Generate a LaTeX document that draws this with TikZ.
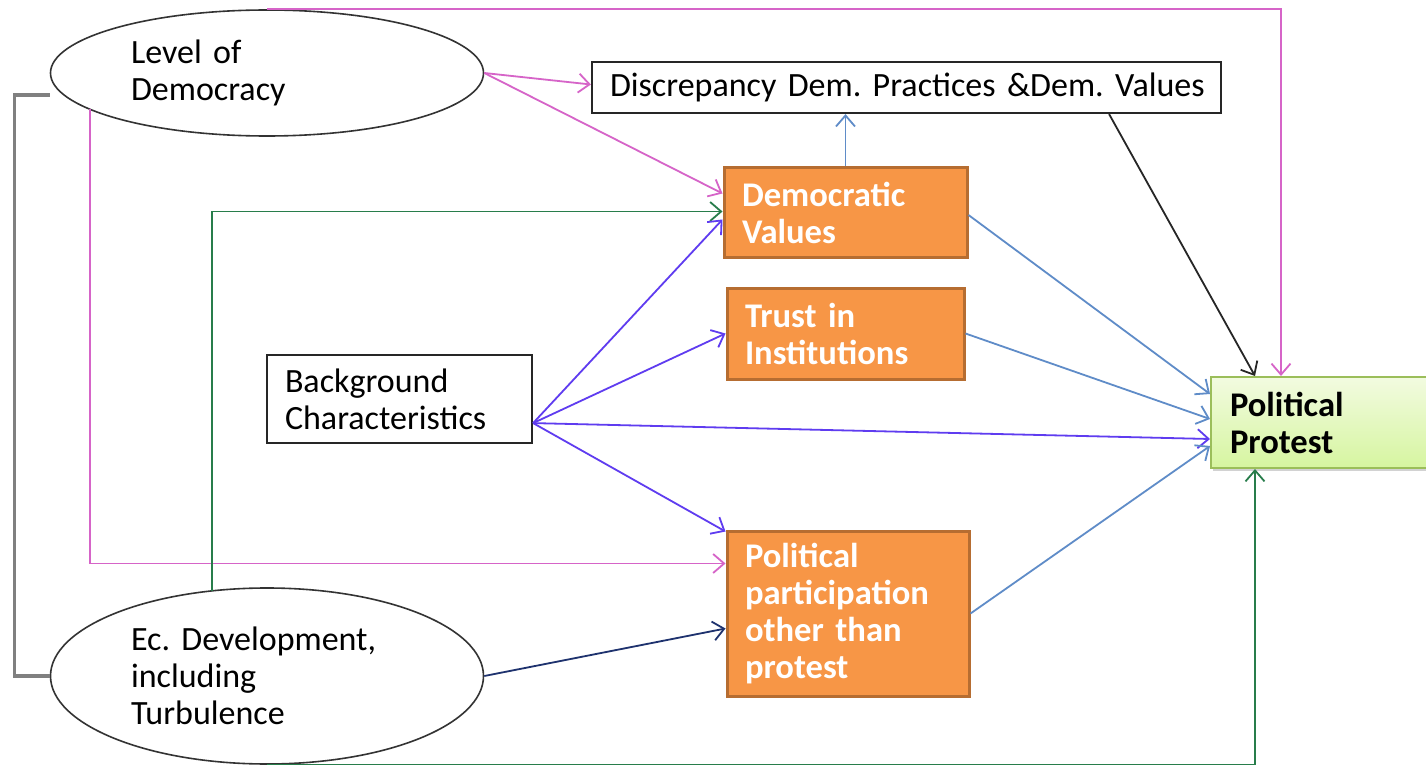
\documentclass[tikz,border=0pt]{standalone}
\usepackage{fontspec}
\setmainfont{Carlito}
\frenchspacing
\usetikzlibrary{arrows.meta,calc,shapes.geometric,shadows}
\definecolor{orangefill}{RGB}{247,150,70}
\definecolor{orangeborder}{RGB}{182,109,49}
\definecolor{magc}{RGB}{214,100,200}
\definecolor{grnc}{RGB}{40,125,75}
\definecolor{purc}{RGB}{95,60,240}
\definecolor{lbc}{RGB}{95,140,200}
\definecolor{navyc}{RGB}{30,50,110}
\definecolor{grayc}{RGB}{128,128,128}
\definecolor{ppTop}{RGB}{242,251,224}
\definecolor{ppBot}{RGB}{214,245,160}
\definecolor{ppBorder}{RGB}{155,190,90}
\begin{document}
\begin{tikzpicture}[x=0.5pt,y=-0.5pt,
  font=\fontsize{17}{18.5}\selectfont,
  arr/.style={-{Straight Barb[length=5.5pt,width=9.5pt]}, line width=0.9pt},
  ell/.style={ellipse, draw=black!80, line width=0.8pt, inner sep=0pt, text width=136pt, align=left, minimum width=216.5pt},
  wbox/.style={draw=black!85, line width=1.1pt, inner xsep=9pt, inner ysep=0pt, align=left},
  obox/.style={draw=orangeborder, fill=orangefill, line width=1.5pt, text=white, font=\fontsize{17.3}{18.5}\selectfont\bfseries, inner xsep=9pt, inner ysep=0pt, align=left},
  pbox/.style={draw=ppBorder, line width=1pt, top color=ppTop, bottom color=ppBot, font=\fontsize{17.3}{18.5}\selectfont\bfseries, inner xsep=9.5pt, inner ysep=0pt, align=left, drop shadow={opacity=0.35, shadow xshift=1pt, shadow yshift=-1.5pt}},
  mag/.style={draw=magc},
  grn/.style={draw=grnc},
  pur/.style={draw=purc},
  lb/.style={draw=lbc},
  blk/.style={draw=black!85},
  nav/.style={draw=navyc},
  graybr/.style={draw=grayc, line width=1.6pt},
]
\useasboundingbox[fill=white] (0,0) rectangle (1426,765);

% nodes
\node[ell, minimum height=63pt] (lod) at (267,73) {Level of\\Democracy};
\node[ell, minimum height=88pt] (ec) at (267,676) {Ec. Development,\\including\\Turbulence};
\node[wbox, text width=296.5pt, minimum height=25.5pt] (disc) at (906.5,87.5) {\mbox{Discrepancy Dem. Practices \&Dem. Values}};
\node[wbox, text width=114.5pt, minimum height=44pt] (bg) at (399.5,399) {Background\\Characteristics};
\node[obox, text width=103.5pt, minimum height=45pt] (dv) at (845.5,213) {Democratic\\Values};
\node[obox, text width=100.5pt, minimum height=45.5pt] (tr) at (845.5,333.5) {Trust in\\Institutions};
\node[obox, text width=103pt, minimum height=82.5pt] (pol) at (848,613.5) {Political\\participation\\other than\\protest};
\node[pbox, text width=101pt, minimum height=45.5pt] (pp) at (1331,422.5) {Political\\Protest};

% connectors
\draw[mag,arr] (lod.north) -| ($(pp.north west)+(71,0)$);
\draw[mag,arr] (lod.east) -- ($(disc.west)+(0,-3)$);
\draw[mag,arr] (lod.east) -- ($(dv.north west)+(0,27)$);
\coordinate (lodL) at ($(lod.center)+(-177,36)$);
\draw[mag,arr] (lodL) |- ($(pol.north west)+(0,34)$);

\coordinate (ecT) at ($(ec.center)+(-55,-85)$);
\draw[grn,arr] (ecT) |- ($(dv.north west)+(0,45)$);
\draw[grn,arr] (ec.south) -| ($(pp.south west)+(45,0)$);

\draw[graybr] ($(lod.west)+(0,22)$) -- ++(-35,0) |- (ec.west);

\draw[lb,arr] (dv.north) -- (dv.north |- disc.south);
\draw[blk,arr] ($(disc.south east)+(-113,0)$) -- ($(pp.north west)+(45,0)$);
\draw[lb,arr] ($(dv.east)+(0,2)$) -- ($(pp.north west)+(0,18)$);
\draw[lb,arr] (tr.east) -- ($(pp.north west)+(0,43)$);

\coordinate (bgo) at ($(bg.south east)+(0,-21)$);
\draw[pur,arr] (bgo) -- ($(dv.south west)+(0,-40)$);
\draw[pur,arr] (bgo) -- (tr.west);
\draw[pur,arr] (bgo) -- ($(pp.north west)+(0,63)$);
\draw[pur,arr] (bgo) -- ($(pol.north west)+(0,2)$);

\draw[lb,arr] (pol.east) -- ($(pp.north west)+(0,70)$);
\draw[nav,arr] (ec.east) -- ($(pol.north west)+(0,99)$);
\end{tikzpicture}
\end{document}
